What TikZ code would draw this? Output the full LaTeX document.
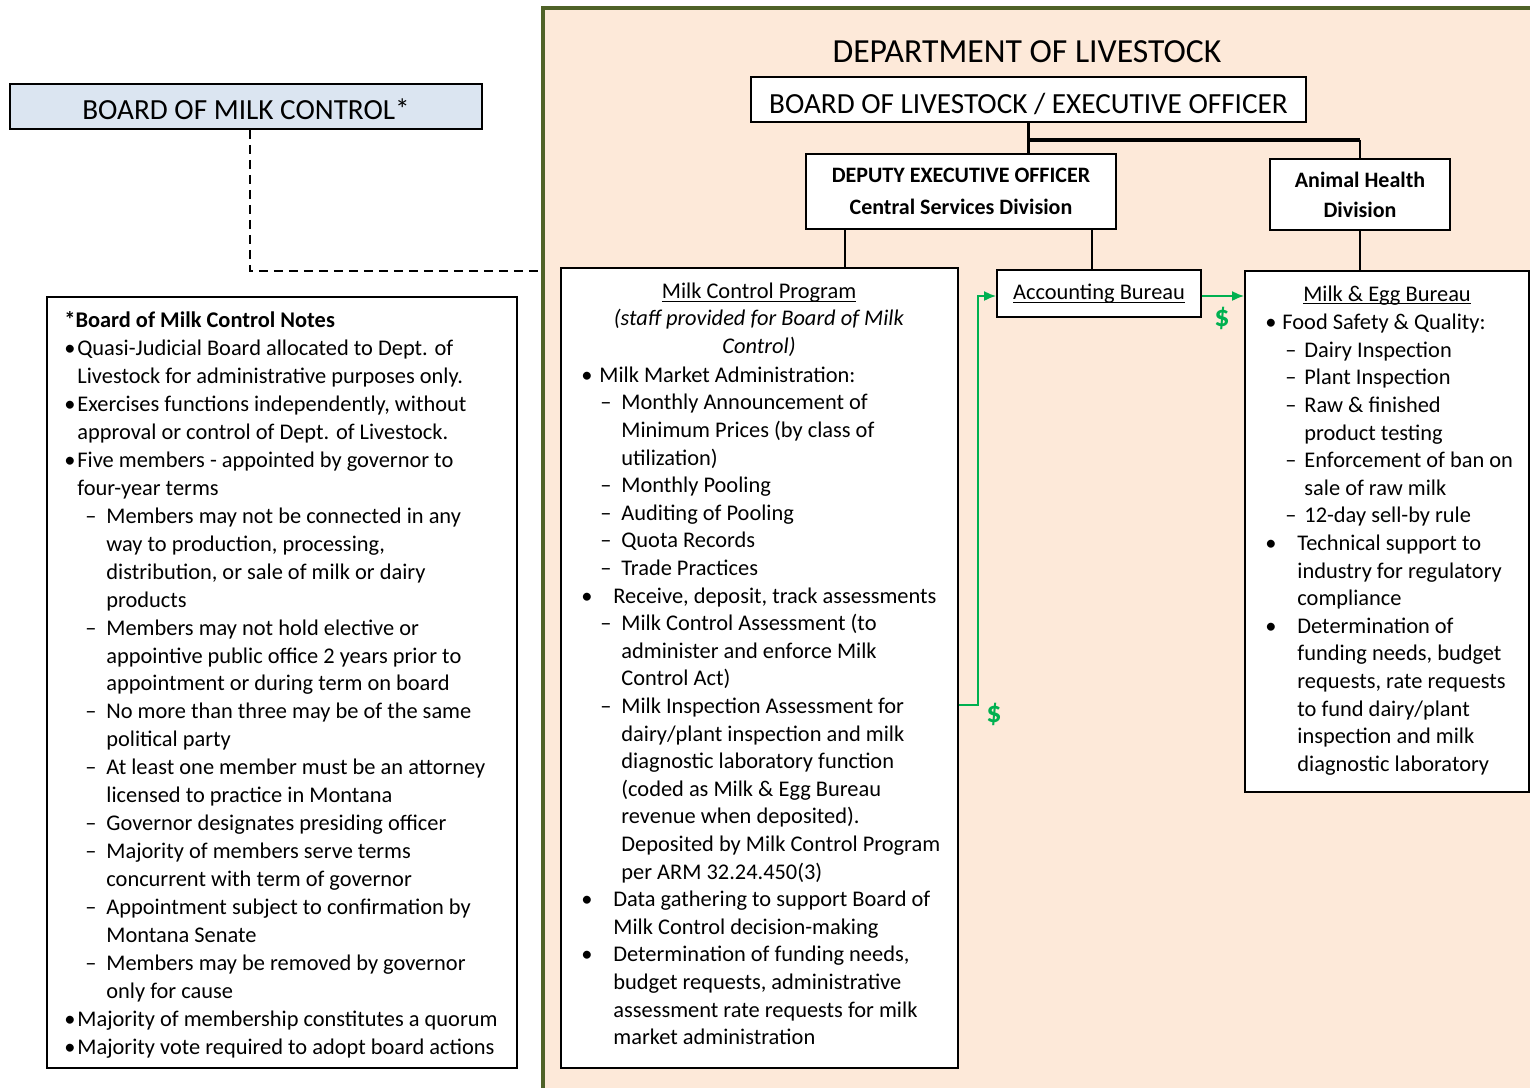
\documentclass[tikz,border=0pt]{standalone}
\usepackage{fontspec}
\setmainfont{Carlito}
\usetikzlibrary{arrows.meta,fit}
\definecolor{peach}{RGB}{253,233,217}
\definecolor{olive}{RGB}{79,98,40}
\definecolor{paleblue}{RGB}{219,229,241}
\definecolor{moneygreen}{RGB}{0,176,80}
\def\px{0.5pt}
\newcommand{\bodyfont}{\fontsize{11.2}{13.8}\selectfont}
\newcommand{\notesfont}{\fontsize{11.2}{13.98}\selectfont}
\newcommand{\bu}[1]{\makebox[#1][l]{\textbullet}}
\newcommand{\da}[2]{\hspace*{#1}\makebox[#2][l]{\textendash}}
\newcommand{\indt}[1]{\hspace*{#1}}
\newcommand{\uln}[1]{\setbox0\hbox{#1}\rlap{\rule[-1.7pt]{\wd0}{0.6pt}}\box0}

\begin{document}
\begin{tikzpicture}[x=0.5pt,y=-0.5pt,
		box/.style={draw=black,line width=0.9pt,fill=white,inner sep=0},
		listtext/.style={inner sep=0,align=left,font=\bodyfont},
		link/.style={line width=1.1pt},
		cashflow/.style={draw=moneygreen,line width=0.9pt,-{Latex[length=6pt,width=5pt]}},
		dollar/.style={text=moneygreen,font=\bfseries\fontsize{15}{15}\selectfont}]
		%%%%% START %%%%%
		
		\useasboundingbox (0,0) rectangle (1530,1087);
		\clip (0,0) rectangle (1530,1087);
		
		\node[fit={(543,8) (1560,1110)},inner sep=0,draw=olive,line width=2pt,fill=peach] (dept) {};
		\node[font=\fontsize{16.85}{18}\selectfont] (depttitle) at (1027,52) {DEPARTMENT OF LIVESTOCK};
		
		\node[box,fill=paleblue,minimum width=472*\px,minimum height=45*\px,font=\fontsize{14.6}{16}\selectfont] (bmc) at (246,106.5) {\raisebox{-6.45pt}[0pt][0pt]{BOARD OF MILK CONTROL*}};
		\coordinate (d0) at (250,271);
		\draw[line width=1pt,dash pattern=on 4.5pt off 3pt] (bmc.south -| d0) -- (d0) -- (dept.west |- d0);
		
		\node[box,minimum width=555*\px,minimum height=45*\px,font=\fontsize{14.6}{16}\selectfont] (bol) at (1028.5,99.5) {\raisebox{-6.95pt}[0pt][0pt]{BOARD OF LIVESTOCK / EXECUTIVE OFFICER}};
		\node[box,minimum width=310*\px,minimum height=75*\px,align=center,font=\bfseries\fontsize{11}{16}\selectfont] (deo) at (961,191.5) {DEPUTY EXECUTIVE OFFICER\\Central Services Division};
		\node[box,minimum width=180*\px,minimum height=71*\px,align=center,font=\bfseries\fontsize{11}{15}\selectfont] (ahd) at (1360,194.5) {Animal Health\\Division};
		
		\node[box,fit={(561,268) (958,1068)}] (mcp) {};
		\node[box,minimum width=204*\px,minimum height=47*\px,font=\bodyfont] (acb) at (1099,293.5) {\uln{Accounting Bureau}};
		\node[box,fit={(1245,271) (1529,792)}] (meb) {};
		\node[box,fit={(47,297) (517,1068)}] (notes) {};
		
		% org lines
		\coordinate (bar) at (0,140);
		\coordinate (c1) at (845,0);
		\coordinate (c2) at (1092,0);
		\draw[link] (bol.south) -- (bol.south |- bar);
		\draw[line width=1.6pt] (bol.south |- bar) -- (ahd.north |- bar);
		\draw[link] (bol.south |- bar) -- (bol.south |- deo.north);
		\draw[link] (ahd.north |- bar) -- (ahd.north);
		\draw[link] (deo.south -| c1) -- (mcp.north -| c1);
		\draw[link] (deo.south -| c2) -- (acb.north -| c2);
		\draw[link] (ahd.south) -- (meb.north -| ahd.south);
		
		% money flow
		\coordinate (f1) at (978,705);
		\coordinate (f2) at (978,296);
		\draw[cashflow] (mcp.east |- f1) -- (f1) -- (f2) -- (acb.west |- f2);
		\draw[cashflow] (acb.east |- f2) -- (meb.west |- f2);
		\node[dollar] (cash1) at (994,714) {\$};
		\node[dollar] (cash2) at (1222,318) {\$};
		
		\node[listtext,font=\notesfont,anchor=north west] (notestext) at (64,307.5) {\strut\textbf{*Board of Milk Control Notes}\\
			\bu{6.5pt}Quasi-Judicial Board allocated to Dept. of\\
			\indt{6.5pt}Livestock for administrative purposes only.\\
			\bu{6.5pt}Exercises functions independently, without\\
			\indt{6.5pt}approval or control of Dept. of Livestock.\\
			\bu{6.5pt}Five members - appointed by governor to\\
			\indt{6.5pt}four-year terms\\
			\da{10.5pt}{10.5pt}Members may not be connected in any\\
			\indt{21pt}way to production, processing,\\
			\indt{21pt}distribution, or sale of milk or dairy\\
			\indt{21pt}products\\
			\da{10.5pt}{10.5pt}Members may not hold elective or\\
			\indt{21pt}appointive public office 2 years prior to\\
			\indt{21pt}appointment or during term on board\\
			\da{10.5pt}{10.5pt}No more than three may be of the same\\
			\indt{21pt}political party\\
			\da{10.5pt}{10.5pt}At least one member must be an attorney\\
			\indt{21pt}licensed to practice in Montana\\
			\da{10.5pt}{10.5pt}Governor designates presiding officer\\
			\da{10.5pt}{10.5pt}Majority of members serve terms\\
			\indt{21pt}concurrent with term of governor\\
			\da{10.5pt}{10.5pt}Appointment subject to confirmation by\\
			\indt{21pt}Montana Senate\\
			\da{10.5pt}{10.5pt}Members may be removed by governor\\
			\indt{21pt}only for cause\\
			\bu{6.5pt}Majority of membership constitutes a quorum\\
			\bu{6.5pt}Majority vote required to adopt board actions};
		
		\node[inner sep=0,align=center,font=\bodyfont,anchor=north] (mcphead) at (759,278.6) {\strut\uln{Milk Control Program}\\
			\textit{(staff provided for Board of Milk}\\
			\textit{Control)}};
		\node[listtext,anchor=north west] (mcptext) at (581,362.6) {\strut\bu{9pt}Milk Market Administration:\\
			\da{9.5pt}{10.5pt}Monthly Announcement of\\
			\indt{20pt}Minimum Prices (by class of\\
			\indt{20pt}utilization)\\
			\da{9.5pt}{10.5pt}Monthly Pooling\\
			\da{9.5pt}{10.5pt}Auditing of Pooling\\
			\da{9.5pt}{10.5pt}Quota Records\\
			\da{9.5pt}{10.5pt}Trade Practices\\
			\bu{16pt}Receive, deposit, track assessments\\
			\da{9.5pt}{10.5pt}Milk Control Assessment (to\\
			\indt{20pt}administer and enforce Milk\\
			\indt{20pt}Control Act)\\
			\da{9.5pt}{10.5pt}Milk Inspection Assessment for\\
			\indt{20pt}dairy/plant inspection and milk\\
			\indt{20pt}diagnostic laboratory function\\
			\indt{20pt}(coded as Milk \& Egg Bureau\\
			\indt{20pt}revenue when deposited).\\
			\indt{20pt}Deposited by Milk Control Program\\
			\indt{20pt}per ARM 32.24.450(3)\\
			\bu{16pt}Data gathering to support Board of\\
			\indt{16pt}Milk Control decision-making\\
			\bu{16pt}Determination of funding needs,\\
			\indt{16pt}budget requests, administrative\\
			\indt{16pt}assessment rate requests for milk\\
			\indt{16pt}market administration};
		
		\node[inner sep=0,font=\bodyfont,anchor=base] (mebhead) at (1387,301) {\uln{Milk \& Egg Bureau}};
		\node[listtext,anchor=north west] (mebtext) at (1265,310) {\strut\bu{8.5pt}Food Safety \& Quality:\\
			\da{10pt}{9.5pt}Dairy Inspection\\
			\da{10pt}{9.5pt}Plant Inspection\\
			\da{10pt}{9.5pt}Raw \& finished\\
			\indt{19.5pt}product testing\\
			\da{10pt}{9.5pt}Enforcement of ban on\\
			\indt{19.5pt}sale of raw milk\\
			\da{10pt}{9.5pt}12-day sell-by rule\\
			\bu{16pt}Technical support to\\
			\indt{16pt}industry for regulatory\\
			\indt{16pt}compliance\\
			\bu{16pt}Determination of\\
			\indt{16pt}funding needs, budget\\
			\indt{16pt}requests, rate requests\\
			\indt{16pt}to fund dairy/plant\\
			\indt{16pt}inspection and milk\\
			\indt{16pt}diagnostic laboratory};
		
		%%%%% END %%%%%
	\end{tikzpicture}
\end{document}
